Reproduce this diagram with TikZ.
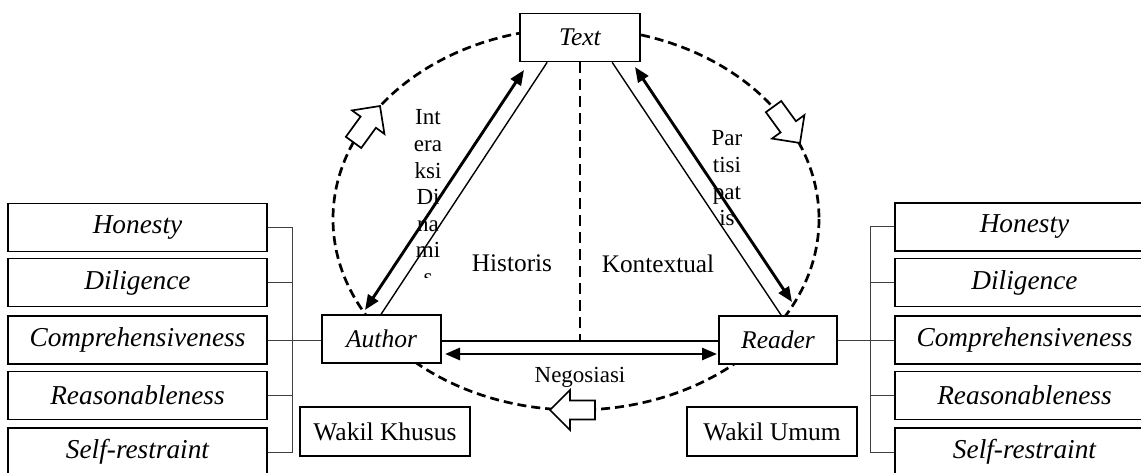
\documentclass[tikz,border=0pt]{standalone}
\usepackage{fontspec}
\setmainfont{Liberation Serif}
\usetikzlibrary{arrows.meta,calc}
\newcommand\blockarrow[3]{%
  \begin{scope}[shift={(#1,#2)},rotate=#3]
    \draw[blockarr] (0,0) -- (-20,20) -- (-20,9.5) -- (-45,9.5) -- (-45,-9.5) -- (-20,-9.5) -- (-20,-20) -- cycle;
  \end{scope}}
\begin{document}
\begin{tikzpicture}[x=1pt,y=-1pt,
  box/.style={draw, line width=1.7pt, fill=white, inner sep=0pt},
  valbox/.style={box, minimum width=259pt, minimum height=48pt, font=\fontsize{27.3}{30}\selectfont\itshape},
  mainbox/.style={box, minimum height=48pt, font=\fontsize{25.5}{30}\selectfont\itshape},
  wakil/.style={box, minimum width=170pt, minimum height=49pt, font=\fontsize{25.5}{30}\selectfont},
  bracket/.style={draw=black!75, line width=1pt},
  thinline/.style={line width=1.4pt},
  thickarrow/.style={line width=2.9pt, {Triangle[length=15pt,width=12pt]}-{Triangle[length=15pt,width=12pt]}},
  dashring/.style={line width=2.7pt, dash pattern=on 9pt off 5pt},
  dashvert/.style={line width=2.8pt, dash pattern=on 11pt off 6pt},
  blockarr/.style={line width=1.7pt, fill=white, line join=miter},
  biglabel/.style={inner sep=0pt, font=\fontsize{25.3}{30}\selectfont},
  smalllabel/.style={inner sep=0pt, font=\fontsize{23}{26.6}\selectfont}
]
\useasboundingbox (0,0) rectangle (1141,473);

% dashed ring
\draw[dashring] (576,219) ellipse [x radius=243, y radius=191];

% main boxes (positions)
\node[mainbox, minimum width=120pt] (text) at (580,37.5) {Text};
\node[mainbox, minimum width=119pt] (author) at (381.5,339) {Author};
\node[mainbox, minimum width=118pt] (reader) at (778,340) {Reader};

% triangle connectors
\coordinate (la) at (365,310);
\coordinate (lt) at (524,70);
\coordinate (ra) at (792,302);
\coordinate (rt) at (635,67);
\draw[thickarrow] (la) -- (lt);
\draw[thinline] ($(text.south west)+(28,0)$) -- ($(author.north west)+(60,0)$);
\draw[thickarrow] (rt) -- (ra);
\draw[thinline] ($(text.south west)+(93,0)$) -- ($(reader.north west)+(63,0)$);
\draw[thinline] ($(author.east)+(0,2)$) -- ($(reader.west)+(0,1)$);
\coordinate (nl) at (445,354);
\coordinate (nr) at (717,354);
\draw[thickarrow] (nl) -- (nr);
\draw[dashvert] (text.south) -- (580,341);

% labels
\node[biglabel] (hist) at (512,263.5) {Historis};
\node[biglabel] (kont) at (658,263.5) {Kontextual};
\node[smalllabel, anchor=base] (nego) at (580,382) {Negosiasi};
\begin{scope}
  \clip (390,95) rectangle (470,278);
  \node[smalllabel, anchor=base] (inter) at (428,125)
    {\begin{tabular}[t]{@{}c@{}}Int\\era\\ksi\\Di\\na\\mi\\s\end{tabular}};
\end{scope}
\node[smalllabel, anchor=base] (parti) at (727,146)
  {\begin{tabular}[t]{@{}c@{}}Par\\tisi\\pat\\is\end{tabular}};

% redraw main boxes on top
\node[mainbox, minimum width=120pt] at (580,37.5) {Text};
\node[mainbox, minimum width=119pt] at (381.5,339) {Author};
\node[mainbox, minimum width=118pt] at (778,340) {Reader};

% wakil boxes
\node[wakil] (wk) at (385,431.5) {Wakil Khusus};
\node[wakil] (wu) at (772,431.5) {Wakil Umum};

% left value boxes
\node[valbox] (lh) at (137.5,227.5) {Honesty};
\node[valbox] (ld) at (137.5,282.5) {Diligence};
\node[valbox] (lc) at (137.5,340) {Comprehensiveness};
\node[valbox] (lr) at (137.5,395.5) {Reasonableness};
\node[valbox] (ls) at (137.5,452) {Self-restraint};
% right value boxes
\node[valbox] (rh) at (1024.5,227) {Honesty};
\node[valbox] (rd) at (1024.5,282.5) {Diligence};
\node[valbox] (rc) at (1024.5,340) {Comprehensiveness};
\node[valbox] (rr) at (1024.5,395.5) {Reasonableness};
\node[valbox] (rs) at (1024.5,452) {Self-restraint};

% brackets
\coordinate (lbus) at (292,0);
\coordinate (rbus) at (870,0);
\draw[bracket] (lh.east) -| (ls.east -| lbus) -- (ls.east);
\draw[bracket] (ld.east) -- (ld.east -| lbus);
\draw[bracket] (lr.east) -- (lr.east -| lbus);
\draw[bracket] (lc.east) -- (lc.east -| author.west);
\draw[bracket] (rh.west) -| (rs.west -| rbus) -- (rs.west);
\draw[bracket] (rd.west) -- (rd.west -| rbus);
\draw[bracket] (rr.west) -- (rr.west -| rbus);
\draw[bracket] (reader.east) -- (reader.east -| rc.west);

% block arrows on the ring
\blockarrow{380}{106}{54}
\blockarrow{800}{143}{-54}
\blockarrow{550}{410}{180}
\end{tikzpicture}
\end{document}
